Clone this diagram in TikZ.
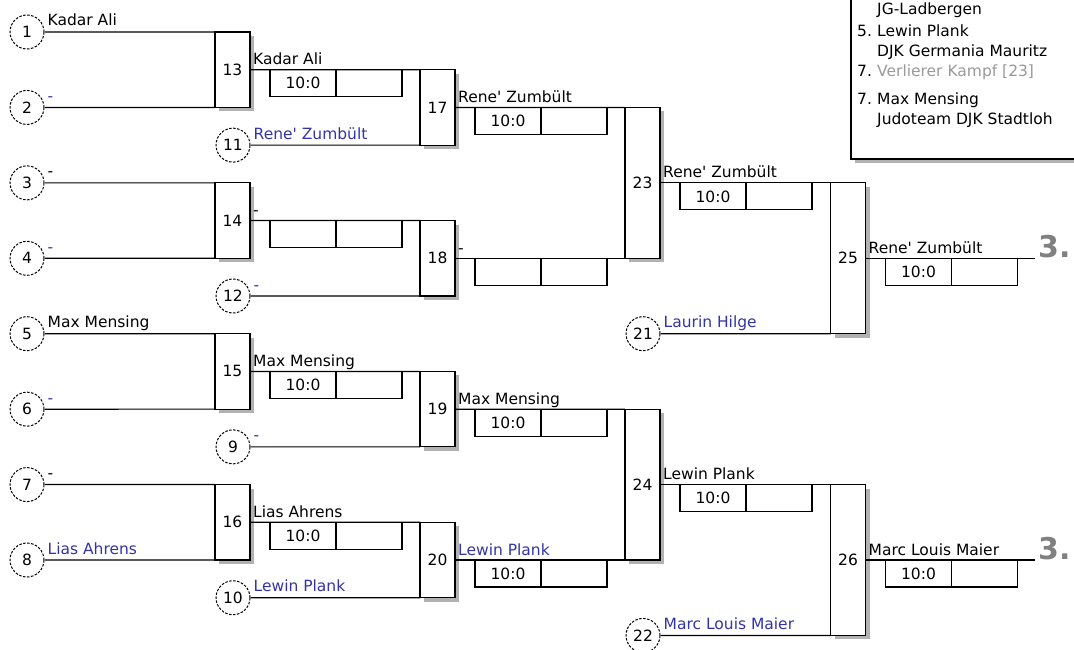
\documentclass[tikz,border=0pt]{standalone}
\usepackage{fontspec}
\setmainfont{DejaVu Sans}
\usetikzlibrary{positioning,calc,shadows}

\definecolor{judoblue}{RGB}{51,51,170}
\definecolor{placegray}{RGB}{128,128,128}

\tikzset{
  seed/.style={circle, draw, dash pattern=on 2.5pt off 1.5pt, line width=1pt, minimum size=34pt, inner sep=0pt},
  fight/.style={draw, fill=white, line width=1.2pt, minimum width=35pt, inner sep=0pt, outer sep=0pt,
    drop shadow={shadow xshift=4pt, shadow yshift=-4pt, fill=black!30, opacity=1}},
  score/.style={draw, line width=1.2pt, minimum width=66pt, minimum height=27pt, inner sep=0pt, outer sep=0pt},
  who/.style={anchor=base west, inner sep=0pt},
  wire/.style={line width=1.2pt},
}
\newcommand{\rz}{Rene\textquotesingle{} Zumbült}

\begin{document}
\begin{tikzpicture}[x=1pt,y=-1pt,font=\fontsize{15.5}{18}\selectfont]
\clip (0,0) rectangle (1074,650);

% seeds
\node[seed] (s1) at (27,32) {1};
\node[seed] (s2) at (27,107.43) {2};
\node[seed] (s3) at (27,182.86) {3};
\node[seed] (s4) at (27,258.29) {4};
\node[seed] (s5) at (27,333.72) {5};
\node[seed] (s6) at (27,409.15) {6};
\node[seed] (s7) at (27,484.58) {7};
\node[seed] (s8) at (27,560.01) {8};
\node[seed] (s11) at (233,145.15) {11};
\node[seed] (s12) at (233,296.00) {12};
\node[seed] (s9) at (233,446.87) {9};
\node[seed] (s10) at (233,597.73) {10};
\node[seed] (s21) at (643,333.72) {21};
\node[seed] (s22) at (643,635.44) {22};

% fights
\node[fight, minimum height=75.43pt] (m13) at (232.5,69.72) {13};
\node[fight, minimum height=75.43pt] (m14) at (232.5,220.57) {14};
\node[fight, minimum height=75.43pt] (m15) at (232.5,371.43) {15};
\node[fight, minimum height=75.43pt] (m16) at (232.5,522.29) {16};
\node[fight, minimum height=75.43pt] (m17) at (437.5,107.43) {17};
\node[fight, minimum height=75.43pt] (m18) at (437.5,258.29) {18};
\node[fight, minimum height=75.43pt] (m19) at (437.5,409.15) {19};
\node[fight, minimum height=75.43pt] (m20) at (437.5,560.01) {20};
\node[fight, minimum height=150.86pt] (m23) at (642.5,182.86) {23};
\node[fight, minimum height=150.86pt] (m24) at (642.5,484.58) {24};
\node[fight, minimum height=150.86pt] (m25) at (848,258.29) {25};
\node[fight, minimum height=150.86pt] (m26) at (848,560.01) {26};

\coordinate (end25) at (1035,258.29);
\coordinate (end26) at (1035,560.01);

% wires
\draw[wire] (s1) -- (m13.north west);
\draw[wire] (s2) -- (m13.south west);
\draw[wire] (s3) -- (m14.north west);
\draw[wire] (s4) -- (m14.south west);
\draw[wire] (s5) -- (m15.north west);
\draw[wire] (s6) -- (m15.south west);
\draw[wire] (s7) -- (m16.north west);
\draw[wire] (s8) -- (m16.south west);
\draw[wire] (m13.east) -- (m17.north west);
\draw[wire] (s11) -- (m17.south west);
\draw[wire] (m14.east) -- (m18.north west);
\draw[wire] (s12) -- (m18.south west);
\draw[wire] (m15.east) -- (m19.north west);
\draw[wire] (s9) -- (m19.south west);
\draw[wire] (m16.east) -- (m20.north west);
\draw[wire] (s10) -- (m20.south west);
\draw[wire] (m17.east) -- (m23.north west);
\draw[wire] (m18.east) -- (m23.south west);
\draw[wire] (m19.east) -- (m24.north west);
\draw[wire] (m20.east) -- (m24.south west);
\draw[wire] (m23.east) -- (m25.north west);
\draw[wire] (s21) -- (m25.south west);
\draw[wire] (m24.east) -- (m26.north west);
\draw[wire] (s22) -- (m26.south west);
\draw[wire] (m25.east) -- (end25);
\draw[wire] (m26.east) -- (end26);

% results
\foreach \m/\res in {13/10:0, 14/{}, 15/10:0, 16/10:0, 17/10:0, 18/{}, 19/10:0, 20/10:0, 23/10:0, 24/10:0, 25/10:0, 26/10:0} {
  \node[score, below right=0pt and 20pt of m\m.east] (r\m a) {\res};
  \node[score, right=0pt of r\m a] (r\m b) {};
}

% names
\foreach \s/\txt/\col in {1/Kadar Ali/black, 2/-/judoblue, 3/-/black, 4/-/judoblue, 5/Max Mensing/black, 6/-/judoblue, 7/-/black, 8/Lias Ahrens/judoblue, 11/\rz/judoblue, 12/-/judoblue, 9/-/judoblue, 10/Lewin Plank/judoblue, 21/Laurin Hilge/judoblue, 22/Marc Louis Maier/judoblue}
  \node[who, text=\col] (ns\s) at ($(s\s.east)+(3,-6)$) {\txt};
\foreach \m/\txt/\col in {13/Kadar Ali/black, 14/-/black, 15/Max Mensing/black, 16/Lias Ahrens/black, 17/\rz/black, 18/-/black, 19/Max Mensing/black, 20/Lewin Plank/judoblue, 23/\rz/black, 24/Lewin Plank/black, 25/\rz/black, 26/Marc Louis Maier/black}
  \node[who, text=\col] (nm\m) at ($(m\m.east)+(3,-5)$) {\txt};

\node[who, text=placegray, font=\fontsize{30}{30}\selectfont\bfseries] (third1) at ($(end25)+(3,-1)$) {3.};
\node[who, text=placegray, font=\fontsize{30}{30}\selectfont\bfseries] (third2) at ($(end26)+(3,-1)$) {3.};

% ranking box
\fill[black!30] (855,-10) rectangle (1084,163);
\draw[fill=white, line width=1.2pt] (851,-10) rectangle (1080,159);
\node[who] (leg1) at (877,15) {JG-Ladbergen};
\node[who] (leg2n) at (857,37) {5.};
\node[who] (leg2) at (877,37) {Lewin Plank};
\node[who] (leg3) at (877,57) {DJK Germania Mauritz};
\node[who] (leg4n) at (857,77) {7.};
\node[who, text=placegray!80] (leg4) at (877,77) {Verlierer Kampf [23]};
\node[who] (leg5n) at (857,105) {7.};
\node[who] (leg5) at (877,105) {Max Mensing};
\node[who] (leg6) at (877,125) {Judoteam DJK Stadtloh};
\end{tikzpicture}
\end{document}
